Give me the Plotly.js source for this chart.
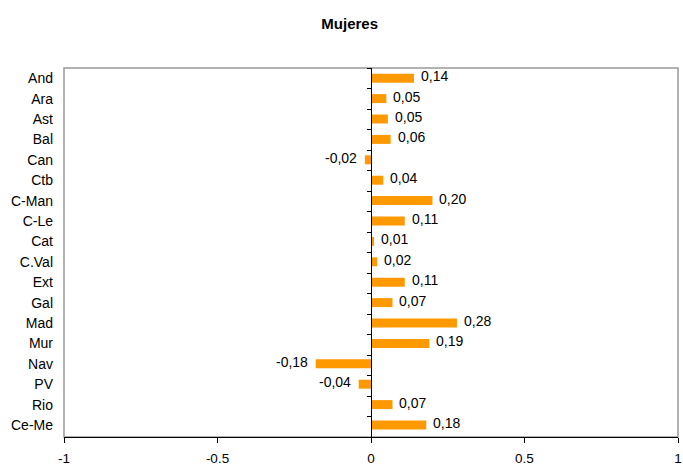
<!DOCTYPE html>
<html><head><meta charset="utf-8">
<script src="https://cdn.plot.ly/plotly-3.0.1.min.js"></script>
<style>html,body{margin:0;padding:0;background:#fff}#c{width:683px;height:466px}</style>
</head><body><div id="c"></div>
<script>
const categories = ["And","Ara","Ast","Bal","Can","Ctb","C-Man","C-Le","Cat","C.Val","Ext","Gal","Mad","Mur","Nav","PV","Rio","Ce-Me"];
const values = [0.14,0.05,0.055,0.064,-0.02,0.04,0.20,0.11,0.01,0.02,0.11,0.07,0.28,0.19,-0.18,-0.04,0.07,0.18];
const valueLabels = ["0,14","0,05","0,05","0,06","-0,02","0,04","0,20","0,11","0,01","0,02","0,11","0,07","0,28","0,19","-0,18","-0,04","0,07","0,18"];
const xTickVals = [-1,-0.5,0,0.5,1];
const xTickText = ["-1","-0.5","0","0.5","1"];

const FONT = "Liberation Sans, Arial, sans-serif";

const traces = [
  {type:"bar", orientation:"h", x:values, y:categories, marker:{color:"#FF9900"}, hoverinfo:"skip", xaxis:"x", yaxis:"y"},
  {type:"bar", orientation:"h", x:values.map(()=>0), y:categories, marker:{color:"rgba(0,0,0,0)"}, hoverinfo:"skip", xaxis:"x", yaxis:"y2", showlegend:false}
];

const annotations = categories.map((c,i)=>({
  x: values[i], y: c, xref:"x", yref:"y",
  text: valueLabels[i], showarrow:false,
  xanchor: values[i] >= 0 ? "left" : "right",
  xshift: values[i] >= 0 ? 5 : -6, yshift: 2,
  font:{family:FONT, size:14, color:"#000"}
}));

const layout = {
  width:683, height:466,
  margin:{l:64, r:5, t:68, b:29, pad:0},
  paper_bgcolor:"#fff", plot_bgcolor:"#fff",
  showlegend:false,
  bargap:0.56,
  title:{text:"<b>Mujeres</b>", x:0.512, xanchor:"center", y:0.948, yanchor:"middle", font:{family:FONT, size:15, color:"#000"}},
  xaxis:{range:[-1,1], domain:[0,1], tickvals:xTickVals, ticktext:xTickText, showgrid:false, zeroline:false,
    showline:true, linecolor:"#000", linewidth:1, ticks:"outside", ticklen:5, tickcolor:"#000",
    ticklabelstandoff:4, tickfont:{family:FONT, size:13.5, color:"#000"}, fixedrange:true},
  yaxis:{type:"category", categoryarray:categories, autorange:"reversed", showgrid:false, zeroline:false,
    showline:false, ticks:"", ticklabelstandoff:10, tickfont:{family:FONT, size:14, color:"#000"}},
  yaxis2:{type:"category", categoryarray:categories, autorange:"reversed", overlaying:"y", anchor:"free", position:0.5,
    side:"left", showline:true, linecolor:"#000", linewidth:1, ticks:"outside", tickson:"boundaries", ticklen:4,
    tickcolor:"#000", showticklabels:false, showgrid:false, zeroline:false},
  shapes:[{type:"rect", xref:"paper", yref:"paper", x0:0, x1:1, y0:0, y1:1, line:{color:"#999", width:1.5}, layer:"below"}],
  annotations: annotations
};

Plotly.newPlot("c", traces, layout, {displayModeBar:false, staticPlot:true});
</script></body></html>
